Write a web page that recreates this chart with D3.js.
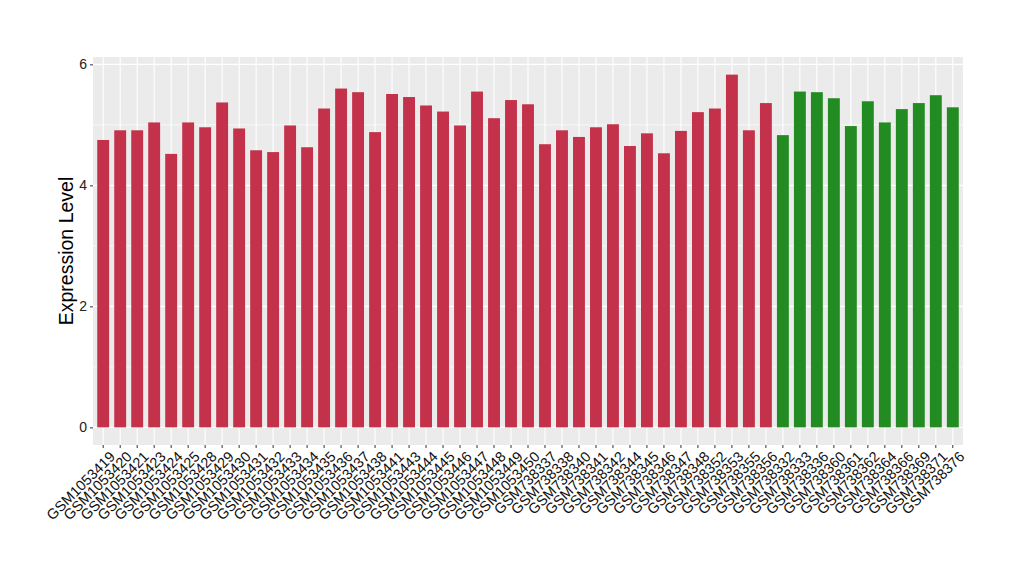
<!DOCTYPE html>
<html>
<head>
<meta charset="utf-8">
<script src="https://cdn.jsdelivr.net/npm/d3@7"></script>
<style>
  body { margin: 0; background: #fff; }
  text { font-family: "Liberation Sans", Arial, sans-serif; }
</style>
</head>
<body>
<div id="chart"></div>
<script>
// samples in plotting order
var redSamples = ["GSM1053419", "GSM1053420", "GSM1053421", "GSM1053423", "GSM1053424", "GSM1053425",
    "GSM1053428", "GSM1053429", "GSM1053430", "GSM1053431", "GSM1053432", "GSM1053433", "GSM1053434",
    "GSM1053435", "GSM1053436", "GSM1053437", "GSM1053438", "GSM1053441", "GSM1053443", "GSM1053444",
    "GSM1053445", "GSM1053446", "GSM1053447", "GSM1053448", "GSM1053449", "GSM1053450",
    "GSM738337", "GSM738338", "GSM738340", "GSM738341", "GSM738342", "GSM738344", "GSM738345",
    "GSM738346", "GSM738347", "GSM738348", "GSM738352", "GSM738353", "GSM738355", "GSM738356"];
var redValues = [4.75, 4.91, 4.91, 5.04, 4.52, 5.04, 4.96, 5.37, 4.94, 4.58, 4.55, 4.99, 4.63,
    5.27, 5.60, 5.54, 4.88, 5.51, 5.46, 5.32, 5.22, 4.99, 5.55, 5.11, 5.41, 5.34,
    4.68, 4.91, 4.80, 4.96, 5.01, 4.65, 4.86, 4.53, 4.90, 5.21, 5.27, 5.83, 4.91, 5.36];

var greenSamples = ["GSM738332", "GSM738333", "GSM738336", "GSM738360", "GSM738361", "GSM738362",
    "GSM738364", "GSM738366", "GSM738369", "GSM738371", "GSM738376"];
var greenValues = [4.83, 5.55, 5.54, 5.44, 4.98, 5.39, 5.04, 5.26, 5.36, 5.49, 5.29];

var yTicks = [0, 2, 4, 6];
var yMinor = [1, 3, 5];

var data = redSamples.map(function(s, i){ return {key: s, value: redValues[i], group: "red"}; })
    .concat(greenSamples.map(function(s, i){ return {key: s, value: greenValues[i], group: "green"}; }));

var width = 1020,
    height = 580,
    pLeft = 93, pRight = 963, pTop = 57, pBottom = 445;

var svg = d3.select("#chart")
  .append("svg")
    .attr("width", width)
    .attr("height", height);

var color = d3.scaleOrdinal()
    .domain(["red", "green"])
    .range(["#c3324a", "#228b22"]);

// ggplot-like discrete axis: 0.6 units of padding each side, bars 0.7 wide
var x = d3.scaleBand()
    .domain(data.map(function(d){ return d.key; }))
    .range([pLeft, pRight])
    .paddingInner(0.3)
    .paddingOuter(0.25);

var maxV = d3.max(data, function(d){ return d.value; });
var y = d3.scaleLinear()
    .domain([-0.05 * maxV, maxV * 1.05])
    .range([pBottom, pTop]);

// panel
svg.append("rect")
    .attr("x", pLeft).attr("y", pTop)
    .attr("width", pRight - pLeft).attr("height", pBottom - pTop)
    .attr("fill", "#ebebeb");

// grid
svg.append("g").selectAll("line.minor")
  .data(yMinor)
  .enter().append("line")
    .attr("x1", pLeft).attr("x2", pRight)
    .attr("y1", function(d){ return y(d); }).attr("y2", function(d){ return y(d); })
    .attr("stroke", "#fff").attr("stroke-width", 0.6);

svg.append("g").selectAll("line.major")
  .data(yTicks)
  .enter().append("line")
    .attr("x1", pLeft).attr("x2", pRight)
    .attr("y1", function(d){ return y(d); }).attr("y2", function(d){ return y(d); })
    .attr("stroke", "#fff").attr("stroke-width", 1.1);

svg.append("g").selectAll("line.vx")
  .data(data)
  .enter().append("line")
    .attr("x1", function(d){ return x(d.key) + x.bandwidth() / 2; })
    .attr("x2", function(d){ return x(d.key) + x.bandwidth() / 2; })
    .attr("y1", pTop).attr("y2", pBottom)
    .attr("stroke", "#fff").attr("stroke-width", 1.1);

// bars
svg.append("g").selectAll("rect")
  .data(data)
  .enter().append("rect")
    .attr("x", function(d){ return x(d.key); })
    .attr("width", x.bandwidth())
    .attr("y", function(d){ return y(d.value); })
    .attr("height", function(d){ return y(0) - y(d.value); })
    .attr("fill", function(d){ return color(d.group); });

// y axis
var yAxis = svg.append("g")
    .attr("transform", "translate(" + pLeft + ",0)")
    .call(d3.axisLeft(y).tickValues(yTicks).tickFormat(d3.format("d")).tickSize(3).tickPadding(3));
yAxis.select(".domain").remove();
yAxis.selectAll(".tick line").attr("stroke", "#333");
yAxis.selectAll("text").attr("fill", "#222").style("font-size", "14px");

// x axis
var xAxis = svg.append("g")
    .attr("transform", "translate(0," + pBottom + ")")
    .call(d3.axisBottom(x).tickSize(3).tickPadding(4));
xAxis.select(".domain").remove();
xAxis.selectAll(".tick line").attr("stroke", "#333");
xAxis.selectAll("text")
    .attr("fill", "#111")
    .style("font-size", "14.5px")
    .attr("text-anchor", "end")
    .attr("dy", "0.75em")
    .attr("transform", "rotate(-45)");

// y title
svg.append("text")
    .attr("transform", "translate(73," + ((pTop + pBottom) / 2) + ") rotate(-90)")
    .attr("text-anchor", "middle")
    .style("font-size", "19.5px")
    .attr("fill", "#000")
    .text("Expression Level");
</script>
</body>
</html>
